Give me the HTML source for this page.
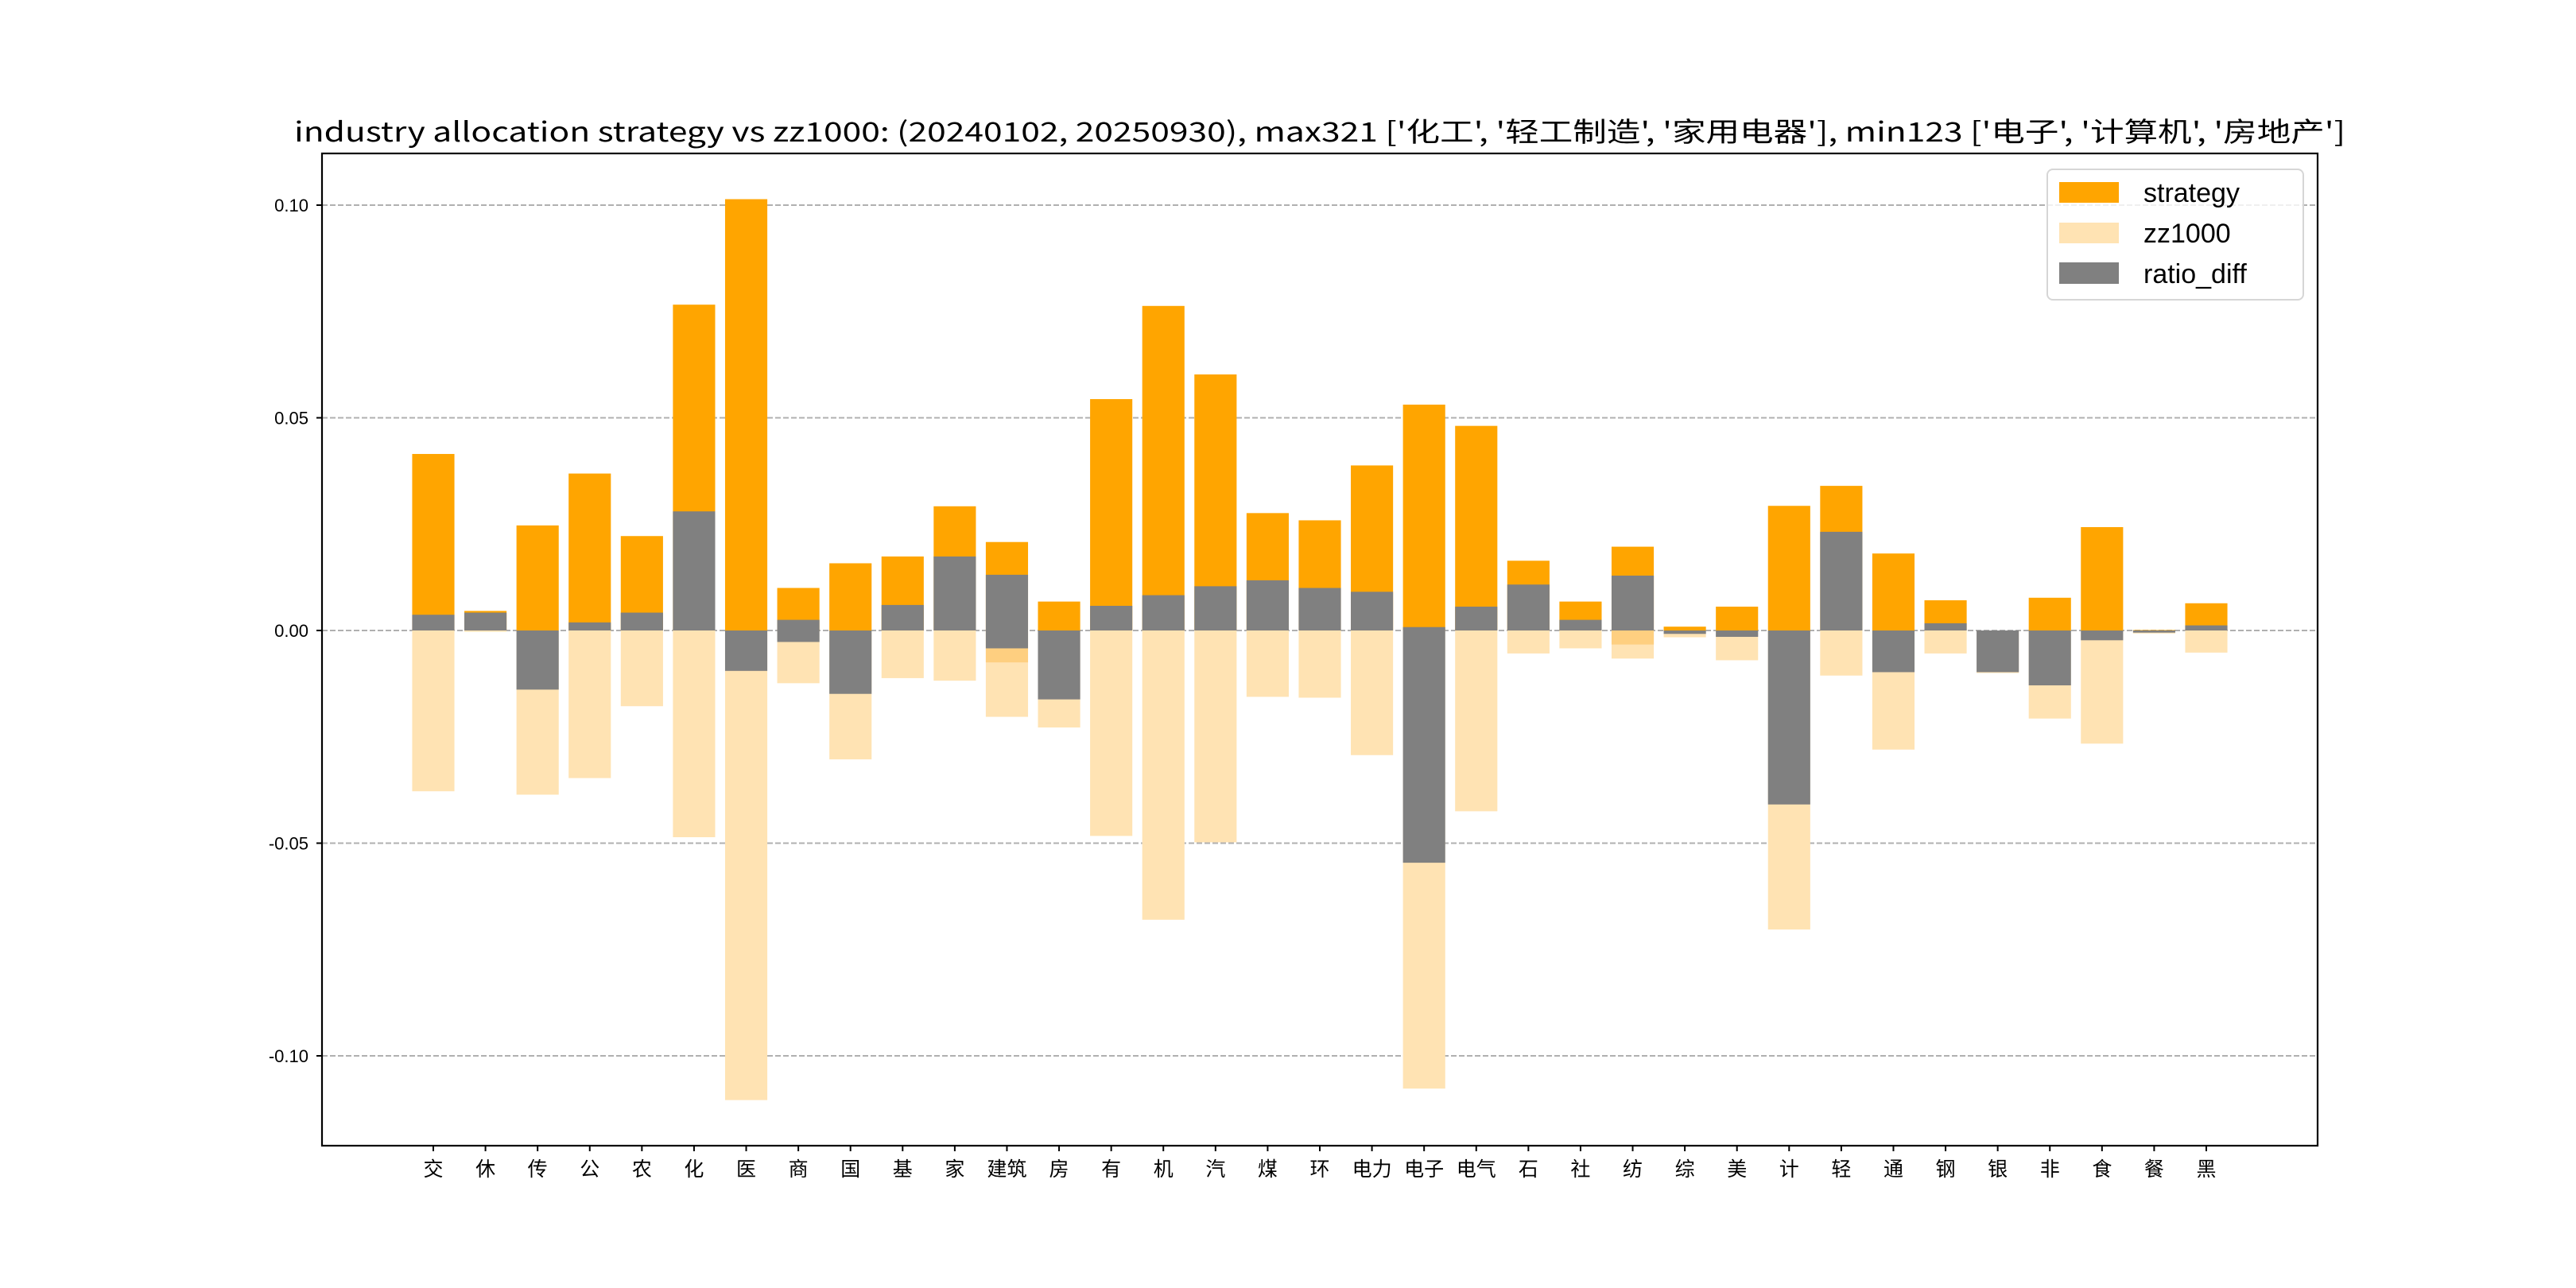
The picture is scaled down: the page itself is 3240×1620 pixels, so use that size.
<!DOCTYPE html>
<html><head><meta charset="utf-8"><style>
html,body{margin:0;padding:0;background:#fff;}
svg{display:block;}
text{font-family:"Liberation Sans","Noto Sans CJK SC",sans-serif;}
</style></head><body>
<svg id="chart" width="3240" height="1620" viewBox="0 0 3240 1620" xmlns="http://www.w3.org/2000/svg">
<rect x="0" y="0" width="3240" height="1620" fill="#fff"/>
<text x="1660" y="178" font-size="34" text-anchor="middle" textLength="2580" lengthAdjust="spacingAndGlyphs" style="font-family:'Noto Sans CJK SC',sans-serif">industry allocation strategy vs zz1000: (20240102, 20250930), max321 ['化工', '轻工制造', '家用电器'], min123 ['电子', '计算机', '房地产']</text>
<g id="grid"></g>
<g id="bars"></g>
<rect x="405" y="193" width="2510" height="1248" fill="none" stroke="#000" stroke-width="2.2"/>
<g id="yaxis"></g>
<g id="xaxis"></g>
<g>
<rect x="2575" y="213" width="322" height="164" rx="7" fill="#fff" fill-opacity="0.8" stroke="#d6d6d6" stroke-width="2"/>
<rect x="2590" y="229" width="75" height="26" fill="#FFA500"/>
<text x="2696" y="254" font-size="34">strategy</text>
<rect x="2590" y="280" width="75" height="26" fill="#FFE3B3"/>
<text x="2696" y="305" font-size="34">zz1000</text>
<rect x="2590" y="330" width="75" height="27" fill="#808080"/>
<text x="2696" y="356" font-size="34">ratio_diff</text>
</g>
</svg>
<script>
const categories = ['交','休','传','公','农','化','医','商','国','基','家','建筑','房','有','机','汽','煤','环','电力','电子','电气','石','社','纺','综','美','计','轻','通','钢','银','非','食','餐','黑'];
const strategy = [0.0415,0.0046,0.0247,0.0369,0.0222,0.0766,0.1014,0.0100,0.0158,0.0174,0.0292,0.0208,0.0068,0.0544,0.0763,0.0602,0.0276,0.0259,0.0388,0.0531,0.0481,0.0164,0.0068,0.0197,0.0009,0.0056,0.0293,0.0340,0.0181,0.0071,0.0000,0.0077,0.0243,0.0001,0.0064];
const zz1000 = [-0.0378,-0.0003,-0.0386,-0.0347,-0.0178,-0.0486,-0.1104,-0.0124,-0.0303,-0.0112,-0.0118,-0.0203,-0.0228,-0.0483,-0.0680,-0.0498,-0.0156,-0.0158,-0.0293,-0.1077,-0.0425,-0.0054,-0.0042,-0.0066,-0.0016,-0.0070,-0.0703,-0.0106,-0.0280,-0.0054,-0.0100,-0.0207,-0.0266,-0.0007,-0.0052];
const zzOverlap = [0,0,0,0,0,0,0,0,0,0,0,-0.0075,0,0,0,0,0,0,0,0,0,0,0,-0.0033,0,0,0,0,0,0,0,0,0,0,0];
const diffTop = [0.0037,0.0042,0,0.0019,0.0042,0.0280,0,0.0025,0,0.0060,0.0174,0.0131,0,0.0058,0.0083,0.0104,0.0118,0.0100,0.0091,0.0008,0.0056,0.0108,0.0025,0.0129,0,0,0,0.0232,0,0.0017,0,0,0,0,0.0012];
const diffBottom = [0,0,-0.0139,0,0,0,-0.0095,-0.0027,-0.0149,0,0,-0.0042,-0.0162,0,0,0,0,0,0,-0.0546,0,0,0,0,-0.0008,-0.0015,-0.0409,0,-0.0098,0,-0.0098,-0.0129,-0.0023,-0.0005,0];
const yTicks = [0.10,0.05,0.00,-0.05,-0.10];
const yTickLabels = ['0.10','0.05','0.00','-0.05','-0.10'];

const NS='http://www.w3.org/2000/svg';
const Y0=793, PX_PER_UNIT=267.5/0.05;
function yScale(v){return Y0 - v*PX_PER_UNIT;}
const X0=545, STEP=(2775-545)/34, BW=STEP*0.81;
function xScale(i){return X0 + i*STEP;}
function mk(tag,attrs,parent){const e=document.createElementNS(NS,tag);for(const k in attrs)e.setAttribute(k,attrs[k]);parent.appendChild(e);return e;}
function barRect(i,a,b,fill,parent){
  const y1=yScale(Math.max(a,b)), y2=yScale(Math.min(a,b));
  return mk('rect',{x:xScale(i)-BW/2,y:y1,width:BW,height:Math.max(0,y2-y1),fill:fill},parent);
}
const grid=document.getElementById('grid');
const yax=document.getElementById('yaxis');
yTicks.forEach((t,k)=>{
  const y=yScale(t);
  const g=mk('line',{x1:405,x2:2915,y1:y,y2:y,stroke:'#b0b0b0','stroke-width':2,'stroke-dasharray':'7,3'},grid);
  
  
  const tk=mk('line',{x1:398,x2:405,y1:y,y2:y,stroke:'#000','stroke-width':2},yax);
  
  
  const tx=mk('text',{x:388,y:y+8,'font-size':22,'text-anchor':'end'},yax);
  tx.textContent=yTickLabels[k];
  
  
});
const bars=document.getElementById('bars');
categories.forEach((c,i)=>{
  const s=barRect(i,0,strategy[i],'#FFA500',bars);
  
  
  const z=barRect(i,0,zz1000[i],'#FFE3B3',bars);
  
  
  if(zzOverlap[i]!==0){
    const o=barRect(i,0,zzOverlap[i],'#FECF80',bars);
    
    
  }
  const d=barRect(i,diffBottom[i],diffTop[i],'#808080',bars);
  
  
});
const xax=document.getElementById('xaxis');
categories.forEach((c,i)=>{
  const x=xScale(i);
  const tk=mk('line',{x1:x,x2:x,y1:1441,y2:1448,stroke:'#000','stroke-width':2},xax);
  
  
  const tx=mk('text',{x:x,y:1479,'font-size':25,'text-anchor':'middle'},xax);
  tx.textContent=c;
  
  
});
</script>
</body></html>
